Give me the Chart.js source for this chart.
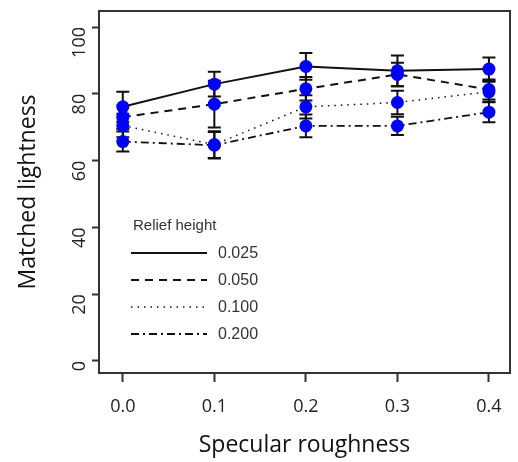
<!DOCTYPE html>
<html>
<head>
<meta charset="utf-8">
<script src="https://cdn.jsdelivr.net/npm/chart.js@4"></script>
<style>
  html, body { margin: 0; padding: 0; background: #ffffff; }
  #wrap { width: 518px; height: 462px; }
</style>
</head>
<body>
<div id="wrap"><canvas id="chart" width="518" height="462"></canvas></div>
<script>
// ================= DATA =================

const roughness = [0.0, 0.1, 0.2, 0.3, 0.4];

const reliefLabels = ["0.025", "0.050", "0.100", "0.200"];

const lightness025 = [76.1, 82.9, 88.2, 86.9, 87.4];
const lightness050 = [73.0, 76.9, 81.5, 85.8, 81.3];
const lightness100 = [70.5, 64.8, 76.1, 77.4, 80.6];
const lightness200 = [65.7, 64.6, 70.4, 70.4, 74.5];

const error025 = [4.5, 3.7, 4.0, 4.6, 3.5];
const error050 = [3.5, 7.0, 3.5, 3.5, 3.0];
const error100 = [3.5, 4.0, 3.5, 3.5, 3.0];
const error200 = [3.0, 4.0, 3.4, 2.7, 3.0];

const xTicks = [0.0, 0.1, 0.2, 0.3, 0.4];
const yTicks = [0, 20, 40, 60, 80, 100];

// ================= HELPERS =================

const ink = "#111111";

function toPoints(values) {
    return roughness.map((x, i) => ({ x: x, y: values[i] }));
}

function makeSeries(label, values, errors, dash, width) {
    return {
        label: label,
        data: toPoints(values),
        errors: errors,
        borderColor: ink,
        borderWidth: width,
        borderDash: dash,
        pointRadius: 6.5,
        pointBackgroundColor: "#0000ff",
        pointBorderColor: "#0000ff",
        pointBorderWidth: 0,
        tension: 0,
        fill: false
    };
}

// Error bars drawn behind the points
const errorBars = {
    id: "errorBars",
    beforeDatasetsDraw(chart) {
        const { ctx, scales } = chart;
        ctx.save();
        ctx.strokeStyle = ink;
        ctx.lineWidth = 2;
        chart.data.datasets.forEach(ds => {
            ds.data.forEach((p, i) => {
                const x = scales.x.getPixelForValue(p.x);
                const yTop = scales.y.getPixelForValue(p.y + ds.errors[i]);
                const yBot = scales.y.getPixelForValue(p.y - ds.errors[i]);
                ctx.beginPath();
                ctx.moveTo(x, yTop);
                ctx.lineTo(x, yBot);
                ctx.moveTo(x - 6.5, yTop);
                ctx.lineTo(x + 6.5, yTop);
                ctx.moveTo(x - 6.5, yBot);
                ctx.lineTo(x + 6.5, yBot);
                ctx.stroke();
            });
        });
        ctx.restore();
    }
};

// Box around the plot and the legend inside it
const boxAndLegend = {
    id: "boxAndLegend",
    afterDraw(chart) {
        const { ctx, chartArea } = chart;
        ctx.save();
        ctx.strokeStyle = "#333333";
        ctx.lineWidth = 2;
        ctx.strokeRect(
            chartArea.left,
            chartArea.top,
            chartArea.right - chartArea.left,
            chartArea.bottom - chartArea.top
        );

        ctx.fillStyle = "#333333";
        ctx.textBaseline = "middle";
        ctx.font = "15px 'Liberation Sans', Arial";
        ctx.fillText("Relief height", 133, 226);

        ctx.font = "16px 'Liberation Sans', Arial";
        chart.data.datasets.forEach((ds, i) => {
            const y = 253 + i * 27;
            ctx.strokeStyle = ink;
            ctx.lineWidth = ds.borderWidth;
            ctx.setLineDash(ds.borderDash);
            ctx.beginPath();
            ctx.moveTo(131, y);
            ctx.lineTo(207, y);
            ctx.stroke();
            ctx.setLineDash([]);
            ctx.fillText(ds.label, 218, y + 1);
        });
        ctx.restore();
    }
};

// ================= CHART =================

new Chart(document.getElementById("chart"), {
    type: "line",
    data: {
        datasets: [
            makeSeries(reliefLabels[0], lightness025, error025, [], 2),
            makeSeries(reliefLabels[1], lightness050, error050, [8, 6], 2),
            makeSeries(reliefLabels[2], lightness100, error100, [1.5, 5], 1.5),
            makeSeries(reliefLabels[3], lightness200, error200, [8, 4, 2, 4], 1.8)
        ]
    },
    options: {
        responsive: false,
        animation: false,
        layout: {
            padding: { top: 11, right: 8, left: 0, bottom: 0 }
        },
        plugins: {
            legend: { display: false },
            tooltip: { enabled: false }
        },
        scales: {
            x: {
                type: "linear",
                min: -0.026,
                max: 0.423,
                afterBuildTicks(scale) {
                    scale.ticks = xTicks.map(v => ({ value: v }));
                },
                afterFit(scale) {
                    scale.height = 89;
                    scale.paddingLeft = 0;
                    scale.paddingRight = 0;
                },
                grid: {
                    drawOnChartArea: false,
                    tickLength: 9,
                    tickColor: "#333333",
                    tickWidth: 2
                },
                border: { display: false },
                ticks: {
                    padding: 14,
                    color: "#222222",
                    font: { family: "'Open Sans'", size: 18 },
                    callback: v => v.toFixed(1)
                },
                title: {
                    display: true,
                    text: "Specular roughness",
                    color: "#111111",
                    font: { family: "'Open Sans'", size: 23 },
                    padding: { top: 0, bottom: 3 }
                }
            },
            y: {
                min: -3.6,
                max: 104.8,
                afterBuildTicks(scale) {
                    scale.ticks = yTicks.map(v => ({ value: v }));
                },
                afterFit(scale) {
                    scale.width = 99;
                    scale.paddingTop = 0;
                    scale.paddingBottom = 0;
                },
                grid: {
                    drawOnChartArea: false,
                    tickLength: 7,
                    tickColor: "#333333",
                    tickWidth: 2
                },
                border: { display: false },
                ticks: {
                    minRotation: 90,
                    maxRotation: 90,
                    padding: 12,
                    color: "#222222",
                    font: { family: "'Open Sans'", size: 18 }
                },
                title: {
                    display: true,
                    text: "Matched lightness",
                    color: "#111111",
                    font: { family: "'Open Sans'", size: 23 },
                    padding: { top: 15, bottom: 0 }
                }
            }
        }
    },
    plugins: [errorBars, boxAndLegend]
});
</script>
</body>
</html>
